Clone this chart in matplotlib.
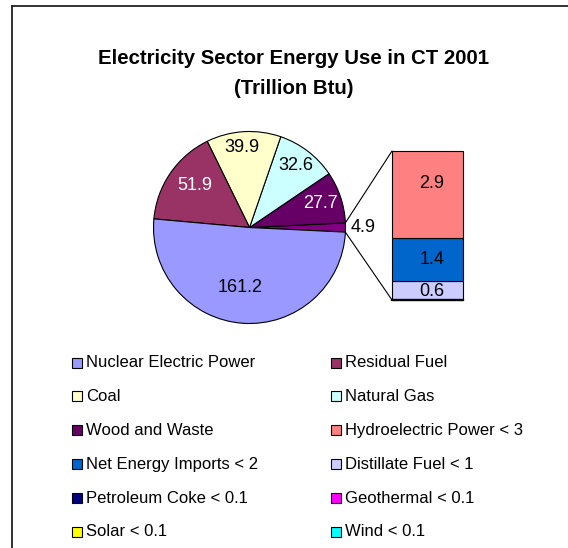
import matplotlib
matplotlib.use("Agg")
import math
import matplotlib.pyplot as plt
from matplotlib.patches import Rectangle, ConnectionPatch
from matplotlib.lines import Line2D

# ---------------- data ----------------
pie_labels = ["Nuclear Electric Power", "Residual Fuel", "Coal", "Natural Gas",
              "Wood and Waste", "Other"]
pie_values = [161.2, 51.9, 39.9, 32.6, 27.7, 4.9]
pie_colors = ["#9999FF", "#993366", "#FFFFCC", "#CCFFFF", "#660066", "#800080"]

bar_labels = ["Hydroelectric Power < 3", "Net Energy Imports < 2", "Distillate Fuel < 1",
              "Petroleum Coke < 0.1", "Geothermal < 0.1", "Solar < 0.1", "Wind < 0.1"]
bar_values = [2.9, 1.4, 0.6, 0.01, 0.01, 0.01, 0.01]
bar_colors = ["#FF8080", "#0066CC", "#CCCCFF", "#000080", "#FF00FF", "#FFFF00", "#00FFFF"]

title_lines = ["Electricity Sector Energy Use in CT 2001", "(Trillion Btu)"]

# ---------------- layout ----------------
W, H = 568, 548
FONT = "Liberation Sans"
plt.rcParams["font.family"] = [FONT, "DejaVu Sans"]

fig = plt.figure(figsize=(W / 100, H / 100), dpi=100)
fig.patch.set_facecolor("white")
ax = fig.add_axes([0, 0, 1, 1])


def py(y):
    return H - y


# pie geometry (pixels)
cx, cy, r = 249.5, 227.5, 96
total = sum(pie_values)
other_idx = len(pie_values) - 1
half = pie_values[other_idx] / total * 180.0
order = list(range(len(pie_values)))[::-1]  # Other, Wood, Gas, Coal, Residual, Nuclear
wedges, _ = ax.pie([pie_values[i] for i in order], colors=[pie_colors[i] for i in order],
                   startangle=-half, counterclock=True, center=(cx, py(cy)), radius=r,
                   wedgeprops=dict(edgecolor="black", linewidth=0.8))
ax.set_xlim(0, W)
ax.set_ylim(0, H)
ax.set_aspect("equal")
ax.set_axis_off()

# pie value labels
pie_label_pos = [(240.5, 288), (194.5, 185), (241.5, 148), (295.5, 165), (320, 203), (363, 227)]
pie_label_col = ["black", "white", "black", "black", "white", "black"]
for v, (x, y), c in zip(pie_values, pie_label_pos, pie_label_col):
    ax.text(x, py(y), f"{v:.1f}", ha="center", va="center", fontsize=13, color=c,
            family=FONT)

# bar of pie
bx0, bx1, by0, by1 = 392, 463, 151, 300
bax = fig.add_axes([bx0 / W, (H - by1) / H, (bx1 - bx0) / W, (by1 - by0) / H])
bottom = 0.0
seg_centers = {}
for i in range(len(bar_values) - 1, -1, -1):
    bars = bax.bar(0, bar_values[i], bottom=bottom, width=1.0, color=bar_colors[i],
                   edgecolor="black", linewidth=0.8)
    for b in bars:
        b.set_clip_on(False)
    seg_centers[i] = bottom + bar_values[i] / 2
    bottom += bar_values[i]
bax.set_xlim(-0.5, 0.5)
bax.set_ylim(0, bottom)
bax.set_axis_off()
bax.axhline(0, color="black", linewidth=1.6, clip_on=False)
label_shift = [0.38, 0.0, -0.05]
for i in range(3):
    bax.text(0.06, seg_centers[i] + label_shift[i], f"{bar_values[i]:.1f}",
             ha="center", va="center", fontsize=13, color="black", family=FONT)

# connector lines from the "Other" slice to the bar
for ang, yfrac in [(half, 1.0), (-half, 0.0)]:
    px = cx + r * math.cos(math.radians(ang))
    pyy = py(cy) + r * math.sin(math.radians(ang))
    con = ConnectionPatch(xyA=(px, pyy), coordsA=ax.transData,
                          xyB=(0.0, yfrac), coordsB=bax.transAxes,
                          color="black", linewidth=0.8)
    fig.add_artist(con)

# title
ax.text(293.5, py(58), title_lines[0], ha="center", va="center", fontsize=14.7,
        fontweight="bold", family=FONT)
ax.text(293.5, py(88), title_lines[1], ha="center", va="center", fontsize=14.7,
        fontweight="bold", family=FONT)

# legend (drawn manually, 2 columns)
leg_names = pie_labels[:5] + bar_labels
leg_colors = pie_colors[:5] + bar_colors
col_x = [72, 331]
row_y0, row_dy = 362.5, 33.9
for k, (name, col) in enumerate(zip(leg_names, leg_colors)):
    row, c = divmod(k, 2)
    x = col_x[c]
    y = row_y0 + row * row_dy
    ax.add_patch(Rectangle((x, py(y + 5)), 10, 10, facecolor=col, edgecolor="black",
                           linewidth=0.8))
    ax.text(x + 14, py(y), name, ha="left", va="center", fontsize=12, family=FONT)

# outer frame (top and left edges visible)
ax.add_line(Line2D([12, W], [py(6), py(6)], color="#222222", linewidth=1.3))
ax.add_line(Line2D([12, 12], [py(6), 0], color="#222222", linewidth=1.3))

fig.savefig("out.png", dpi=100, facecolor="white")
